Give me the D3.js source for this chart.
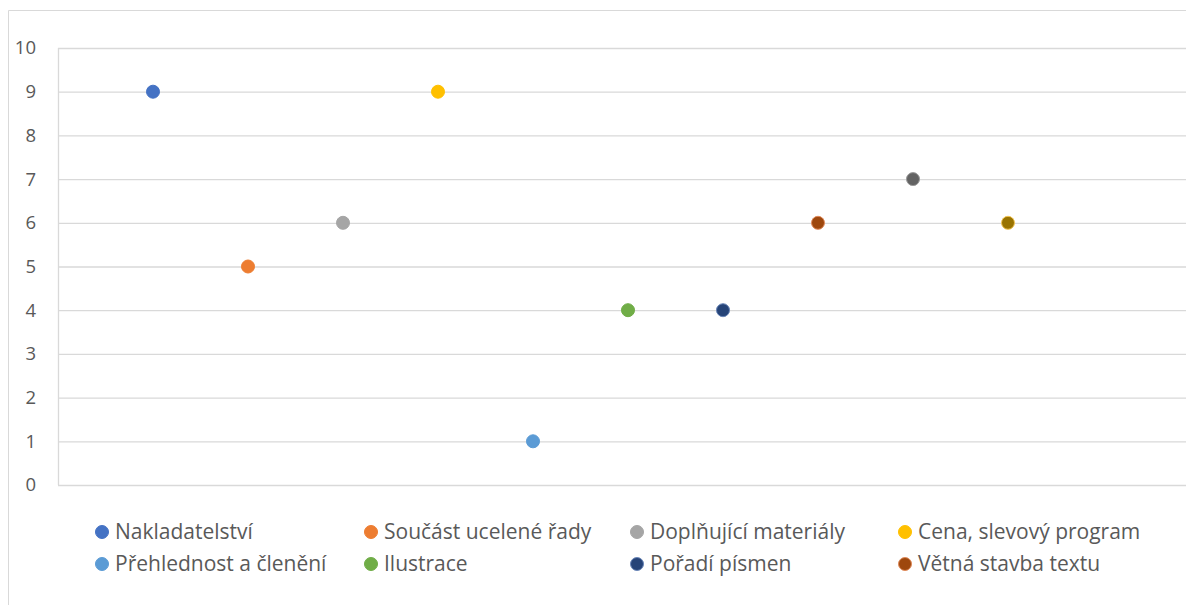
<!DOCTYPE html>
<html>
<head>
<meta charset="utf-8">
<script src="https://cdn.jsdelivr.net/npm/d3@7"></script>
<style>
  html, body { margin: 0; padding: 0; background: #fff; }
  svg { display: block; }
  text { font-family: "Open Sans", "Noto Sans", sans-serif; fill: #595959; }
</style>
</head>
<body>
<svg id="chart" width="1186" height="605"></svg>
<script>
// ---- data ----
const seriesNames = [
  "Nakladatelství", "Součást ucelené řady", "Doplňující materiály", "Cena, slevový program",
  "Přehlednost a členění", "Ilustrace", "Pořadí písmen", "Větná stavba textu",
  "Řada 9", "Řada 10"
];
const xValues = [1, 2, 3, 4, 5, 6, 7, 8, 9, 10];
const yValues = [9, 5, 6, 9, 1, 4, 4, 6, 7, 6];
const seriesColors = ["#4472C4", "#ED7D31", "#A5A5A5", "#FFC000", "#5B9BD5", "#70AD47", "#264478", "#9E480E", "#636363", "#997300"];
const seriesStroke = ["#4472C4", "#ED7D31", "#A5A5A5", "#FFC000", "#5B9BD5", "#70AD47", "#6a86b8", "#e08a5a", "#9a9a9a", "#f2c453"];
const legendCount = 8;
const yTicks = [0, 1, 2, 3, 4, 5, 6, 7, 8, 9, 10];

// ---- layout ----
const svg = d3.select("#chart");
const plot = { left: 58, top: 48, bottom: 485 };

// chart outer border (cropped on right/bottom)
svg.append("path")
  .attr("d", "M8.5,606 L8.5,10.5 L1190,10.5")
  .attr("fill", "none").attr("stroke", "#d9d9d9").attr("stroke-width", 1);

const x = d3.scaleLinear().domain([0, 12]).range([plot.left, plot.left + 95 * 12]);
const y = d3.scaleLinear().domain([0, 10]).range([plot.bottom, plot.top]);

// gridlines
const yAxis = d3.axisLeft(y).tickValues(yTicks).tickSize(-(1190 - plot.left)).tickPadding(22).tickFormat(d3.format("d"));
const gAxis = svg.append("g").attr("transform", `translate(${plot.left},0)`).call(yAxis);
gAxis.select(".domain").remove();
gAxis.selectAll(".tick line").attr("stroke", "#d9d9d9").attr("stroke-width", 1.3);
gAxis.selectAll(".tick text").style("font-size", "18.5px").style("fill", "#595959");

// vertical axis line
svg.append("line")
  .attr("x1", plot.left + 0.5).attr("x2", plot.left + 0.5)
  .attr("y1", y(10)).attr("y2", y(0))
  .attr("stroke", "#d9d9d9").attr("stroke-width", 1.3);

// points
svg.append("g").selectAll("circle")
  .data(xValues.map((xv, i) => ({ x: xv, y: yValues[i], i })))
  .join("circle")
  .attr("cx", d => x(d.x))
  .attr("cy", d => y(d.y))
  .attr("r", 6.5)
  .attr("fill", d => seriesColors[d.i])
  .attr("stroke", d => seriesStroke[d.i])
  .attr("stroke-width", 1);

// legend
const legX = [102, 371, 637, 905];
const legY = [532, 564];
const leg = svg.append("g");
for (let i = 0; i < legendCount; i++) {
  const cx = legX[i % 4], cy = legY[Math.floor(i / 4)];
  leg.append("circle").attr("cx", cx).attr("cy", cy).attr("r", 6.5)
    .attr("fill", seriesColors[i]).attr("stroke", seriesStroke[i]).attr("stroke-width", 1);
  leg.append("text").attr("x", cx + 13).attr("y", cy).attr("dy", "0.35em")
    .style("font-size", "21px").text(seriesNames[i]);
}
</script>
</body>
</html>
